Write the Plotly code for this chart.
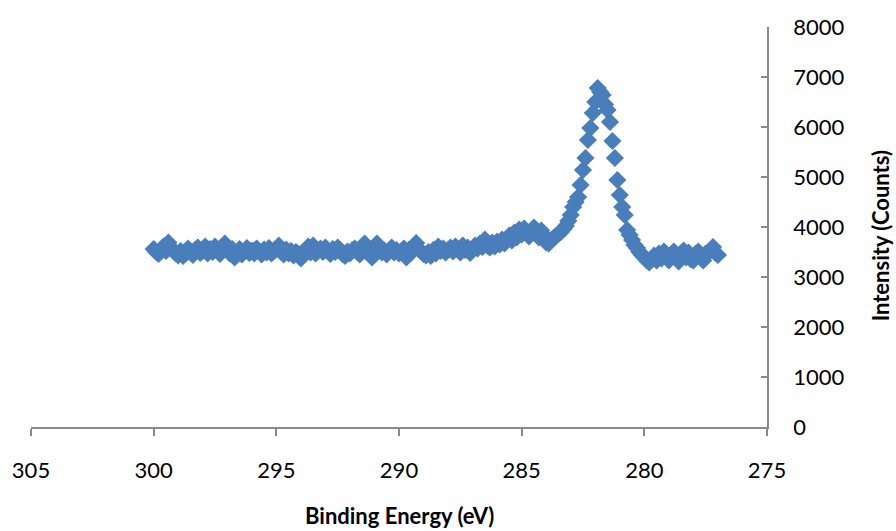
import plotly.graph_objects as go

# XPS C 1s scan: binding energy from 300.0 eV down to 277.0 eV in 0.1 eV steps
START_EV = 300.0
STEP_EV = 0.1

intensity = [
    3560, 3500, 3460, 3540, 3610, 3520, 3690, 3590, 3540, 3470,  # 300.0-299.1
    3430, 3520, 3420, 3470, 3570, 3500, 3440, 3550, 3590, 3480,  # 299.0-298.1
    3520, 3610, 3470, 3560, 3500, 3610, 3530, 3460, 3590, 3670,  # 298.0-297.1
    3540, 3470, 3560, 3390, 3500, 3560, 3450, 3520, 3580, 3480,  # 297.0-296.1
    3530, 3470, 3570, 3510, 3450, 3550, 3490, 3580, 3470, 3520,  # 296.0-295.1
    3560, 3630, 3500, 3450, 3550, 3470, 3520, 3430, 3500, 3460,  # 295.0-294.1
    3370, 3450, 3540, 3610, 3490, 3630, 3470, 3530, 3570, 3500,  # 294.0-293.1
    3590, 3520, 3460, 3560, 3500, 3590, 3540, 3460, 3420, 3510,  # 293.0-292.1
    3470, 3540, 3570, 3500, 3450, 3610, 3670, 3550, 3480, 3390,  # 292.0-291.1
    3470, 3670, 3560, 3490, 3530, 3450, 3520, 3590, 3490, 3540,  # 291.0-290.1
    3470, 3520, 3570, 3390, 3540, 3490, 3610, 3680, 3560, 3510,  # 290.0-289.1
    3460, 3430, 3500, 3420, 3540, 3470, 3610, 3520, 3570, 3490,  # 289.0-288.1
    3540, 3590, 3510, 3610, 3560, 3490, 3630, 3540, 3590, 3480,  # 288.0-287.1
    3560, 3630, 3570, 3670, 3600, 3750, 3630, 3590, 3690, 3610,  # 287.0-286.1
    3710, 3650, 3750, 3670, 3770, 3830, 3730, 3890, 3790, 3950,  # 286.0-285.1
    3850, 3970, 3870, 3810, 3910, 3990, 3850, 3790, 3930, 3830,  # 285.0-284.1
    3690, 3670, 3740, 3780, 3820, 3860, 3900, 3960, 4020, 4120,  # 284.0-283.1
    4240, 4400, 4500, 4600, 4840, 5140, 5380, 5740, 5980, 6280,  # 283.0-282.1
    6500, 6780, 6700, 6640, 6450, 6340, 6100, 5720, 5380, 4940,  # 282.0-281.1
    4640, 4400, 4240, 3940, 3840, 3740, 3640, 3580, 3500, 3440,  # 281.0-280.1
    3400, 3330, 3290, 3360, 3430, 3330, 3470, 3370, 3510, 3400,  # 280.0-279.1
    3330, 3450, 3510, 3370, 3310, 3470, 3530, 3390, 3490, 3350,  # 279.0-278.1
    3330, 3470, 3510, 3390, 3330, 3470, 3490, 3530, 3600, 3480,  # 278.0-277.1
    3440,                                                        # 277.0
]
binding_energy = [round(START_EV - STEP_EV * i, 1) for i in range(len(intensity))]

x_title = "Binding Energy (eV)"
y_title = "Intensity (Counts)"

FONT = "Lato, Carlito, Calibri, sans-serif"
AXIS_GREY = "#898989"
MARKER_BLUE = "#4A7EBB"

fig = go.Figure(
    go.Scatter(
        x=binding_energy,
        y=intensity,
        mode="markers",
        marker=dict(symbol="diamond", size=14, color=MARKER_BLUE, line=dict(width=0)),
        showlegend=False,
    )
)

fig.update_layout(
    width=896,
    height=531,
    margin=dict(l=31, r=129, t=27, b=104),
    paper_bgcolor="white",
    plot_bgcolor="white",
    font=dict(family=FONT, size=22, color="black"),
    xaxis=dict(
        range=[305, 275],
        tick0=275,
        dtick=5,
        showgrid=False,
        zeroline=False,
        showline=True,
        linecolor=AXIS_GREY,
        linewidth=1.5,
        ticks="outside",
        ticklen=7,
        tickwidth=1.5,
        tickcolor=AXIS_GREY,
        ticklabelstandoff=16,
    ),
    yaxis=dict(
        range=[0, 8000],
        dtick=1000,
        side="right",
        showgrid=False,
        zeroline=False,
        showline=True,
        linecolor=AXIS_GREY,
        linewidth=1.5,
        ticks="inside",
        ticklen=6,
        tickwidth=1.5,
        tickcolor=AXIS_GREY,
        ticklabelstandoff=20,
    ),
    annotations=[
        dict(
            text=f"<b>{x_title}</b>",
            xref="paper", yref="paper",
            x=0.5, y=-0.22,
            xanchor="center", yanchor="middle",
            showarrow=False,
            font=dict(family=FONT, size=22, color="black"),
        ),
        dict(
            text=f"<b>{y_title}</b>",
            xref="paper", yref="paper",
            x=1.154, y=0.4775,
            xanchor="center", yanchor="middle",
            textangle=-90,
            showarrow=False,
            font=dict(family=FONT, size=22, color="black"),
        ),
    ],
)

fig.write_html("out.html")
